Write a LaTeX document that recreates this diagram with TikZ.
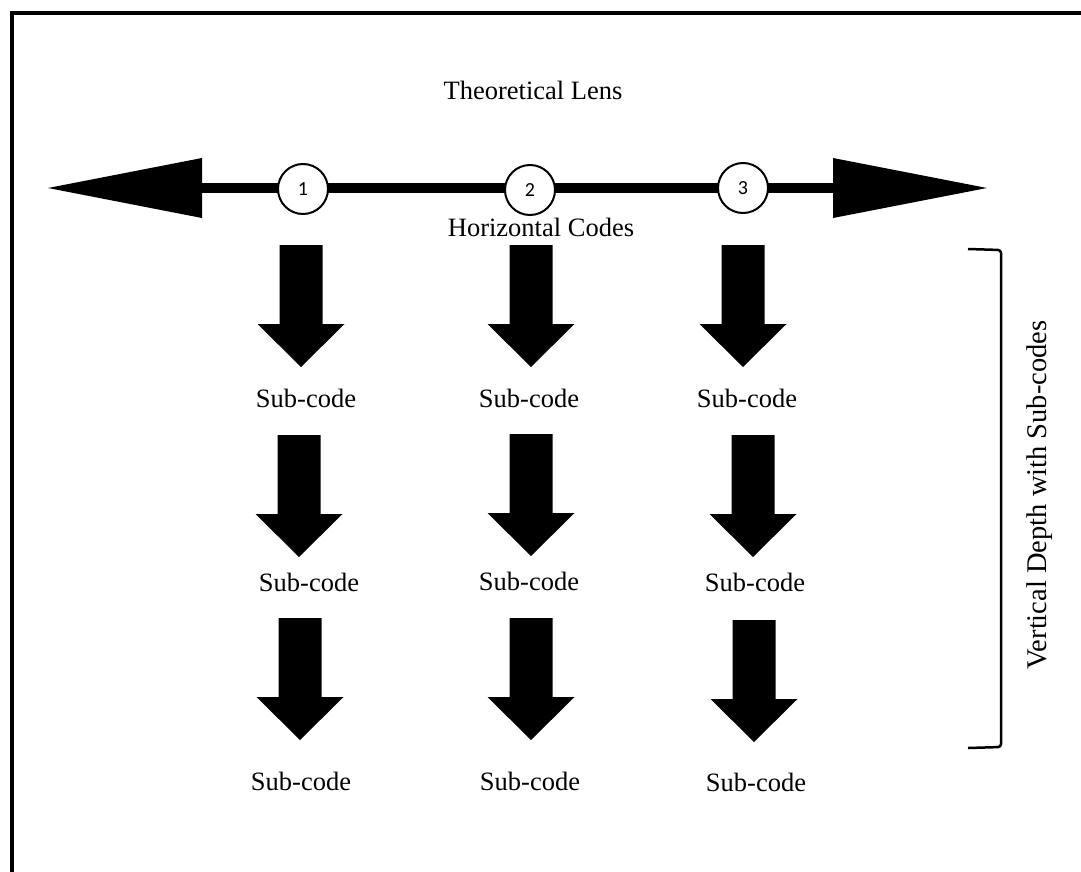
\documentclass[tikz,border=0pt]{standalone}
\usepackage{fontspec}
\setmainfont{Liberation Serif}
\newfontfamily\digitfont{Carlito}
\begin{document}
\begin{tikzpicture}[x=1pt,y=-1pt,
  lbl/.style={font=\fontsize{26.5}{31}\selectfont, inner sep=0pt},
  codecircle/.style={circle, draw, line width=2pt, fill=white, minimum size=50pt,
    inner sep=0pt, font=\digitfont\fontsize{20}{24}\selectfont},
  pics/downarrow/.style={code={
    \fill (-21.5,0) -- (21.5,0) -- (21.5,79) -- (43.5,79) -- (0,122)
          -- (-43.5,79) -- (-21.5,79) -- cycle;}}
]
\useasboundingbox (0,0) rectangle (1081,872);

% outer frame (runs off the right and bottom edges)
\draw[line width=3.5pt] (12,900) -- (12,13) -- (1100,13);

% theoretical lens axis
\node[lbl] (lens) at (533,90) {Theoretical Lens};
\coordinate (axisL) at (202,188);
\coordinate (axisR) at (833,188);
\fill (48,188) -- (202,158) -- (202,218) -- cycle;
\fill (987,188) -- (833,158) -- (833,218) -- cycle;
\draw[line width=10pt] (axisL) -- (axisR);
\node[codecircle] (c1) at (303,189) {1};
\node[codecircle] (c2) at (530,190) {2};
\node[codecircle] (c3) at (743,188) {3};
\node[lbl] (hcodes) at (541,227) {Horizontal Codes};

% block arrows and sub-codes
\pic at (301,245) {downarrow};
\pic at (531,245) {downarrow};
\pic at (743,245) {downarrow};
\node[lbl] (s11) at (306,398) {Sub-code};
\node[lbl] (s12) at (529,398) {Sub-code};
\node[lbl] (s13) at (747,398) {Sub-code};

\pic at (299,435) {downarrow};
\pic at (531,434) {downarrow};
\pic at (753,435) {downarrow};
\node[lbl] (s21) at (309,582) {Sub-code};
\node[lbl] (s22) at (529,581) {Sub-code};
\node[lbl] (s23) at (755,582) {Sub-code};

\pic at (300,618) {downarrow};
\pic at (531,618) {downarrow};
\pic at (754,620) {downarrow};
\node[lbl] (s31) at (301,781) {Sub-code};
\node[lbl] (s32) at (530,781) {Sub-code};
\node[lbl] (s33) at (756,782) {Sub-code};

% bracket and vertical caption
\draw[line width=2.5pt, rounded corners=3pt] (968,249) -- (1001,250) -- (1001,747) -- (968,748);
\node[font=\fontsize{28.5}{33}\selectfont, inner sep=0pt, rotate=90] (vdepth) at (1040,495) {Vertical Depth with Sub-codes};
\end{tikzpicture}
\end{document}
